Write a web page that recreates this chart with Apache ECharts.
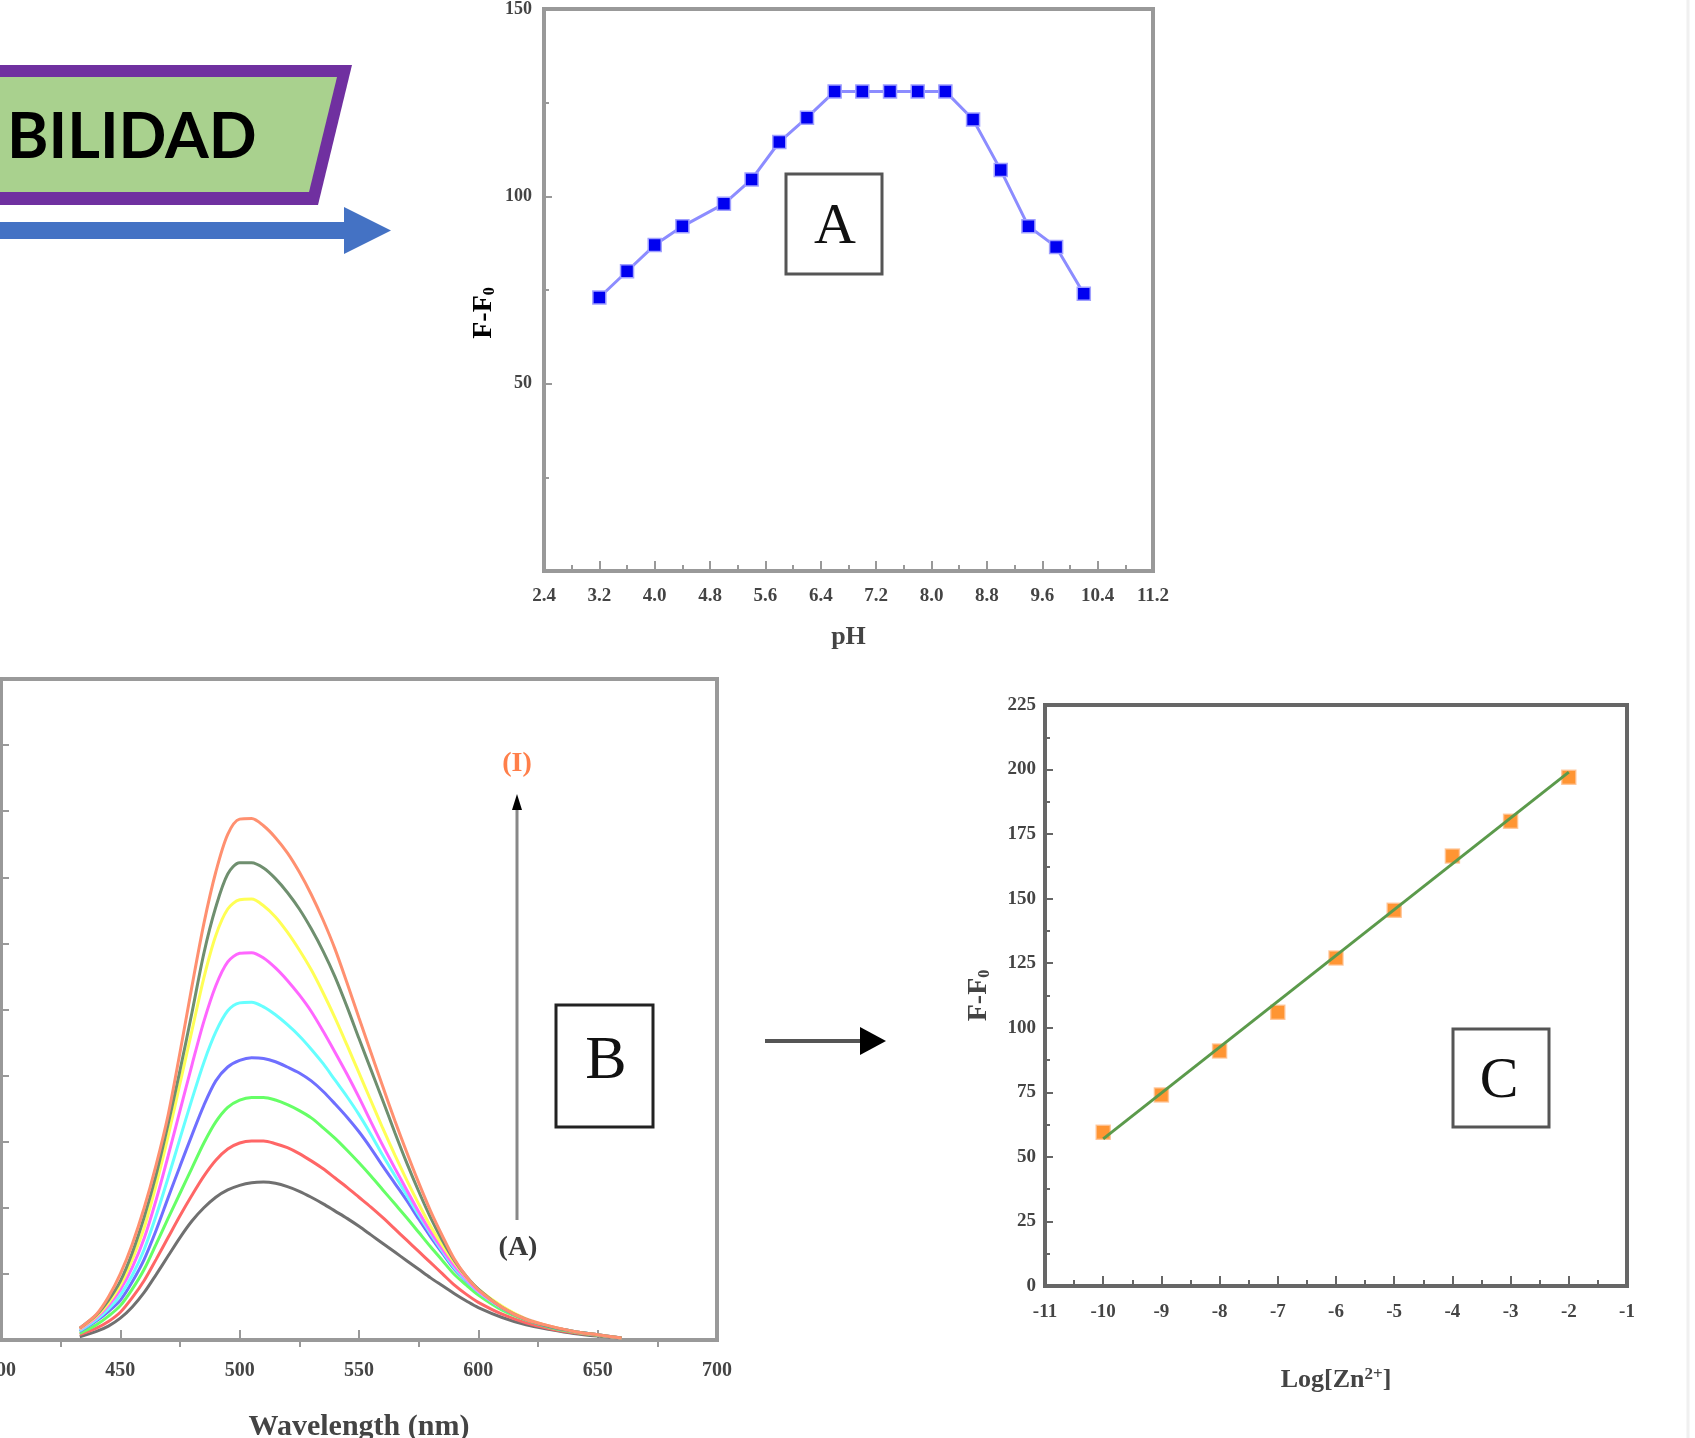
<!DOCTYPE html>
<html><head><meta charset="utf-8">
<script src="https://cdn.jsdelivr.net/npm/echarts@6/dist/echarts.min.js"></script>
<style>html,body{margin:0;padding:0;background:#fff}#c{width:1695px;height:1438px}</style>
</head><body><div id="c"></div>
<script>
// ---------- Panel A: pH effect ----------
const phValues   = [3.2, 3.6, 4.0, 4.4, 5.0, 5.4, 5.8, 6.2, 6.6, 7.0, 7.4, 7.8, 8.2, 8.6, 9.0, 9.4, 9.8, 10.2];
const phResponse = [73, 80, 87, 92, 98, 104.5, 114.5, 121, 128, 128, 128, 128, 128, 120.5, 107, 92, 86.5, 74];
const phAxisRange = [2.4, 11.2, 0.8];
const phYAxisRange = [0, 150, 50];

// ---------- Panel B: emission spectra (curve A ... curve I) ----------
const wavelengths = [433, 440, 445, 450, 455, 460, 465, 470, 475, 480, 485, 490, 495, 500, 505, 510, 515, 520, 525, 530, 535, 540, 545, 550, 555, 560, 565, 570, 575, 580, 585, 590, 595, 600, 610, 620, 630, 640, 650, 660];
const specGray    = [5, 13, 21, 33, 50, 72, 99, 127, 155, 180, 200, 216, 227, 234, 238, 239, 237, 232, 225, 216, 206, 195, 184, 172, 159, 146, 133, 120, 107, 94, 82, 70, 59, 49, 34, 23, 16, 10, 6, 3];
const specRed     = [8, 18, 28, 42, 64, 90, 122, 155, 188, 219, 248, 272, 289, 298, 301, 301, 297, 291, 282, 271, 259, 245, 231, 216, 201, 185, 168, 151, 134, 117, 100, 83, 69, 57, 39, 26, 17, 11, 7, 3];
const specGreen   = [10, 23, 36, 52, 77, 107, 145, 184, 222, 260, 298, 330, 352, 363, 367, 367, 363, 356, 347, 336, 321, 305, 287, 268, 248, 227, 206, 185, 163, 141, 120, 99, 83, 68, 45, 30, 19, 12, 7, 3];
const specBlue    = [13, 29, 43, 60, 88, 122, 166, 215, 263, 310, 355, 392, 413, 423, 427, 426, 421, 413, 404, 392, 376, 357, 337, 315, 290, 263, 237, 211, 183, 156, 131, 107, 89, 73, 48, 31, 20, 13, 8, 3];
const specCyan    = [14, 31, 47, 68, 98, 137, 188, 245, 305, 364, 420, 466, 498, 510, 511, 504, 492, 477, 460, 440, 418, 393, 368, 341, 311, 279, 249, 219, 189, 161, 134, 109, 90, 73, 48, 31, 20, 13, 8, 3];
const specMagenta = [16, 34, 52, 76, 110, 154, 212, 278, 347, 416, 482, 536, 572, 585, 586, 578, 563, 544, 522, 497, 467, 435, 402, 367, 330, 294, 260, 227, 194, 164, 137, 112, 92, 74, 49, 32, 21, 13, 8, 3];
const specYellow  = [17, 36, 56, 83, 122, 170, 235, 308, 388, 468, 548, 612, 652, 666, 667, 657, 640, 617, 590, 560, 525, 487, 446, 404, 362, 320, 280, 242, 206, 172, 143, 117, 95, 77, 51, 32, 21, 13, 8, 3];
const specOlive   = [18, 38, 60, 89, 132, 186, 250, 326, 408, 495, 585, 655, 705, 722, 722, 714, 698, 677, 652, 622, 588, 549, 504, 456, 409, 362, 314, 268, 225, 185, 150, 120, 96, 77, 49, 31, 20, 13, 8, 3];
const specOrange  = [18, 39, 65, 100, 145, 200, 265, 340, 435, 535, 630, 708, 765, 788, 789, 778, 760, 737, 708, 674, 635, 591, 540, 487, 435, 383, 332, 284, 238, 195, 157, 122, 96, 76, 49, 31, 21, 13, 8, 3];
const spectra = [specGray, specRed, specGreen, specBlue, specCyan, specMagenta, specYellow, specOlive, specOrange];
const spectraColors = ['#707070', '#ff6666', '#66ff66', '#6f6fff', '#66ffff', '#ff66ff', '#ffff55', '#6f8f6f', '#ff9070'];
const wlAxisRange = [400, 700, 50];
const intensityRange = [0, 1000, 100];

// ---------- Panel C: calibration ----------
const logZn = [-10, -9, -8, -7, -6, -5, -4, -3, -2];
const zincResponse = [59.5, 74, 91, 106, 127, 145.5, 166.5, 180, 197];
const fitX = [-10, -2];
const fitY = [57, 199];
const logAxisRange = [-11, -1, 1];
const cYAxisRange = [0, 225, 25];

const SERIF = "'Liberation Serif','Times New Roman',serif";
const LABEL_COLOR = '#444';
const chart = echarts.init(document.getElementById('c'), null, {renderer: 'canvas'});

function lbl(size, margin, extra) {
  return Object.assign({fontFamily: SERIF, fontWeight: 'bold', fontSize: size, color: LABEL_COLOR, margin: margin}, extra || {});
}
function xAx(gi, range, color, opts) {
  return Object.assign({
    gridIndex: gi, type: 'value', min: range[0], max: range[1], interval: range[2],
    axisLine: {show: true, onZero: false, lineStyle: {color: color, width: 4}},
    axisTick: {show: true, inside: true, length: 10, lineStyle: {color: color, width: 2}},
    minorTick: {show: true, splitNumber: 2, length: 6, lineStyle: {color: color, width: 2}},
    splitLine: {show: false},
    nameLocation: 'middle',
    nameTextStyle: {fontFamily: SERIF, fontWeight: 'bold', fontSize: 26, color: LABEL_COLOR}
  }, opts);
}
function yAx(gi, range, color, opts) {
  return Object.assign({
    gridIndex: gi, type: 'value', min: range[0], max: range[1], interval: range[2],
    axisLine: {show: true, onZero: false, lineStyle: {color: color, width: 4}},
    axisTick: {show: true, inside: true, length: 8, lineStyle: {color: color, width: 2}},
    minorTick: {show: true, splitNumber: 2, length: 5, lineStyle: {color: color, width: 2}},
    splitLine: {show: false},
    nameLocation: 'middle'
  }, opts);
}

const subRich = {
  m: {fontFamily: SERIF, fontWeight: 'bold', fontSize: 28, color: LABEL_COLOR},
  s: {fontFamily: SERIF, fontWeight: 'bold', fontSize: 16, color: LABEL_COLOR, verticalAlign: 'bottom', padding: [10, 0, 0, 0]},
  p: {fontFamily: SERIF, fontWeight: 'bold', fontSize: 17, color: LABEL_COLOR, verticalAlign: 'top', padding: [0, 0, 12, 0]},
  x: {fontFamily: SERIF, fontWeight: 'bold', fontSize: 26, color: LABEL_COLOR}
};

const series = [];
series.push({
  type: 'line', xAxisIndex: 0, yAxisIndex: 0,
  data: phValues.map((x, i) => [x, phResponse[i]]),
  symbol: 'rect', symbolSize: 13,
  itemStyle: {color: '#0000f0', borderColor: '#a0a0ff', borderWidth: 1.5},
  lineStyle: {color: '#8c8cff', width: 3}, z: 3
});
spectra.forEach((arr, k) => {
  series.push({
    type: 'line', xAxisIndex: 1, yAxisIndex: 1, showSymbol: false, smooth: 0.3,
    data: wavelengths.map((w, i) => [w, arr[i]]),
    lineStyle: {color: spectraColors[k], width: 3}, z: 2 + k
  });
});
series.push({
  type: 'scatter', xAxisIndex: 2, yAxisIndex: 2,
  data: logZn.map((x, i) => [x, zincResponse[i]]),
  symbol: 'rect', symbolSize: 14,
  itemStyle: {color: '#ff7a00', borderColor: '#ffc090', borderWidth: 1.5}, z: 2
});
series.push({
  type: 'line', xAxisIndex: 2, yAxisIndex: 2, showSymbol: false,
  data: fitX.map((x, i) => [x, fitY[i]]),
  lineStyle: {color: '#5b9a4b', width: 3}, z: 4
});

function box(x1, y1, x2, y2, label, cx, cy, fs, color) {
  return [
    {type: 'rect', shape: {x: x1, y: y1, width: x2 - x1, height: y2 - y1}, style: {fill: '#fff', stroke: color, lineWidth: 3}, z: 50},
    {type: 'text', x: cx, y: cy, style: {text: label, fontFamily: SERIF, fontSize: fs, fill: '#111', align: 'center', verticalAlign: 'middle'}, z: 51}
  ];
}

const graphic = [
  // banner
  {type: 'polygon', shape: {points: [[0, 65], [352, 65], [318, 205], [0, 205]]}, style: {fill: '#7030a0'}, z: 10},
  {type: 'polygon', shape: {points: [[0, 77], [337, 77], [309, 192], [0, 192]]}, style: {fill: '#a9d18e'}, z: 11},
  {type: 'text', x: 7, y: 138, style: {text: 'BILIDAD', fontFamily: 'Lato', fontWeight: 'bold', fontSize: 63, fill: '#000', align: 'left', verticalAlign: 'middle'}, z: 12},
  // blue arrow
  {type: 'rect', shape: {x: 0, y: 222, width: 347, height: 17}, style: {fill: '#4472c4'}, z: 10},
  {type: 'polygon', shape: {points: [[344, 207], [391, 230.5], [344, 254]]}, style: {fill: '#4472c4'}, z: 10},
  // A y-axis name
  {type: 'text', x: 484, y: 313, rotation: Math.PI / 2,
   style: {text: '{m|F-F}{s|0}', rich: subRich, align: 'center', verticalAlign: 'middle'}, z: 20},
  // B annotations
  {type: 'text', x: 517, y: 764, style: {text: '(I)', fontFamily: SERIF, fontWeight: 'bold', fontSize: 28, fill: '#ff7f4a', align: 'center', verticalAlign: 'middle'}, z: 20},
  {type: 'text', x: 518, y: 1248, style: {text: '(A)', fontFamily: SERIF, fontWeight: 'bold', fontSize: 28, fill: '#3a3a3a', align: 'center', verticalAlign: 'middle'}, z: 20},
  {type: 'line', shape: {x1: 517, y1: 1220, x2: 517, y2: 806}, style: {stroke: '#888', lineWidth: 3}, z: 20},
  {type: 'polygon', shape: {points: [[512, 810], [517, 794], [522, 810]]}, style: {fill: '#000'}, z: 21},
  // arrow B -> C
  {type: 'line', shape: {x1: 765, y1: 1041, x2: 862, y2: 1041}, style: {stroke: '#555', lineWidth: 4}, z: 20},
  {type: 'polygon', shape: {points: [[860, 1027], [886, 1041], [860, 1055]]}, style: {fill: '#000'}, z: 21},
  // faint right edge
  {type: 'line', shape: {x1: 1688, y1: 0, x2: 1688, y2: 1438}, style: {stroke: '#f0f0f0', lineWidth: 3}, z: 1}
].concat(
  box(786, 174, 882, 274, 'A', 835, 228, 58, '#555'),
  box(556, 1005, 653, 1127, 'B', 606, 1062, 62, '#222'),
  box(1453, 1029, 1549, 1127, 'C', 1499, 1082, 58, '#555')
);

chart.setOption({
  animation: false,
  backgroundColor: '#fff',
  grid: [
    {left: 544, top: 9, width: 609, height: 562, show: true, borderColor: '#999', borderWidth: 4, outerBoundsMode: 'none', containLabel: false},
    {left: 1, top: 679, width: 716, height: 661, show: true, borderColor: '#9a9a9a', borderWidth: 4, outerBoundsMode: 'none', containLabel: false},
    {left: 1045, top: 705, width: 582, height: 581, show: true, borderColor: '#666', borderWidth: 4, outerBoundsMode: 'none', containLabel: false}
  ],
  xAxis: [
    xAx(0, phAxisRange, '#999', {name: 'pH', nameGap: 53,
      axisLabel: lbl(19, 16, {formatter: v => v.toFixed(1)})}),
    xAx(1, wlAxisRange, '#999', {name: 'Wavelength (nm)', nameGap: 72,
      minorTick: {show: true, splitNumber: 2, length: -7, lineStyle: {color: '#999', width: 2}},
      axisLabel: lbl(20, 21),
      nameTextStyle: {fontFamily: SERIF, fontWeight: 'bold', fontSize: 30, color: LABEL_COLOR}}),
    xAx(2, logAxisRange, '#666', {name: '{x|Log[Zn}{p|2+}{x|]}', nameGap: 80,
      axisLabel: lbl(19, 17),
      nameTextStyle: {fontFamily: SERIF, fontWeight: 'bold', fontSize: 26, color: LABEL_COLOR, rich: subRich}})
  ],
  yAxis: [
    yAx(0, phYAxisRange, '#999', {
      axisLabel: lbl(18, 12, {formatter: v => v === 0 ? '' : String(v)})}),
    yAx(1, intensityRange, '#999', {axisLabel: {show: false}, minorTick: {show: false}}),
    yAx(2, cYAxisRange, '#666', {name: '{m|F-F}{s|0}', nameGap: 52,
      axisLabel: lbl(19, 9),
      nameTextStyle: {rich: subRich}})
  ],
  series: series,
  graphic: graphic
});
</script>
</body></html>
